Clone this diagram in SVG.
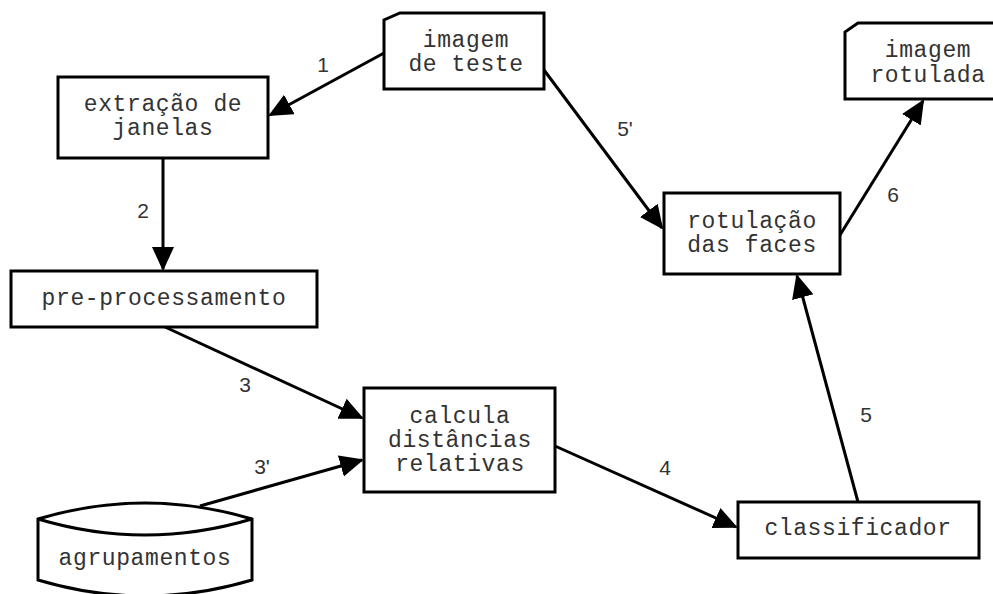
<svg xmlns="http://www.w3.org/2000/svg" width="993" height="594" viewBox="0 0 993 594">
<style>
.box{fill:#fff;stroke:#000;stroke-width:3}
.t{font-family:"Liberation Mono","Courier New",monospace;font-size:23px;letter-spacing:0.6px;fill:#333;text-anchor:middle}
.lbl{font-family:"Liberation Sans",Arial,sans-serif;font-size:21px;fill:#333;text-anchor:middle}
.c{stroke:#000;stroke-width:3;fill:none;marker-end:url(#ah)}
</style>
<defs>
<marker id="ah" markerUnits="userSpaceOnUse" markerWidth="26" markerHeight="24" refX="22" refY="11" orient="auto">
<path d="M0,0 L24,11 L0,22 z" fill="#000"/>
</marker>
</defs>
<rect width="993" height="594" fill="#fff"/>
<g id="connectors">
<line class="c" x1="384" y1="53" x2="270" y2="115"/>
<line class="c" x1="163" y1="158" x2="163" y2="269"/>
<line class="c" x1="165" y1="327" x2="362" y2="418"/>
<line class="c" x1="200" y1="506" x2="362" y2="460"/>
<line class="c" x1="555" y1="446" x2="736" y2="527"/>
<line class="c" x1="858" y1="502" x2="797" y2="276"/>
<line class="c" x1="544" y1="70" x2="662" y2="228"/>
<line class="c" x1="840" y1="235" x2="923" y2="101"/>
<text class="lbl" x="323" y="72">1</text>
<text class="lbl" x="143" y="218">2</text>
<text class="lbl" x="245" y="392">3</text>
<text class="lbl" x="262" y="474">3'</text>
<text class="lbl" x="665" y="475">4</text>
<text class="lbl" x="866" y="422">5</text>
<text class="lbl" x="625" y="136">5'</text>
<text class="lbl" x="893" y="202">6</text>
</g>
<g id="imagem-teste">
<polygon class="box" points="400,13 544,13 544,89 384,89 384,20"/>
<text class="t" x="466" y="47">imagem</text>
<text class="t" x="466" y="71">de teste</text>
</g>
<g id="imagem-rotulada">
<polygon class="box" points="858,23 1011,23 1011,99 845,99 845,32"/>
<text class="t" x="928" y="57">imagem</text>
<text class="t" x="928" y="82">rotulada</text>
</g>
<g id="extracao">
<rect class="box" x="58" y="77" width="210" height="81"/>
<text class="t" x="163" y="111">extração de</text>
<text class="t" x="163" y="135">janelas</text>
</g>
<g id="preproc">
<rect class="box" x="11" y="271" width="306" height="56"/>
<text class="t" x="164" y="305">pre-processamento</text>
</g>
<g id="calcula">
<rect class="box" x="364" y="388" width="191" height="104"/>
<text class="t" x="460" y="423">calcula</text>
<text class="t" x="460" y="447">distâncias</text>
<text class="t" x="460" y="471">relativas</text>
</g>
<g id="agrupamentos">
<path class="box" d="M38,519 Q145,487 252,519 L252,580 Q145,612 38,580 Z"/>
<path d="M38,519 Q145,551 252,519" fill="none" stroke="#000" stroke-width="3"/>
<text class="t" x="145" y="565">agrupamentos</text>
</g>
<g id="classificador">
<rect class="box" x="738" y="502" width="241" height="56"/>
<text class="t" x="858" y="535">classificador</text>
</g>
<g id="rotulacao">
<rect class="box" x="664" y="193" width="176" height="81"/>
<text class="t" x="752" y="228">rotulação</text>
<text class="t" x="752" y="252">das faces</text>
</g>
</svg>
